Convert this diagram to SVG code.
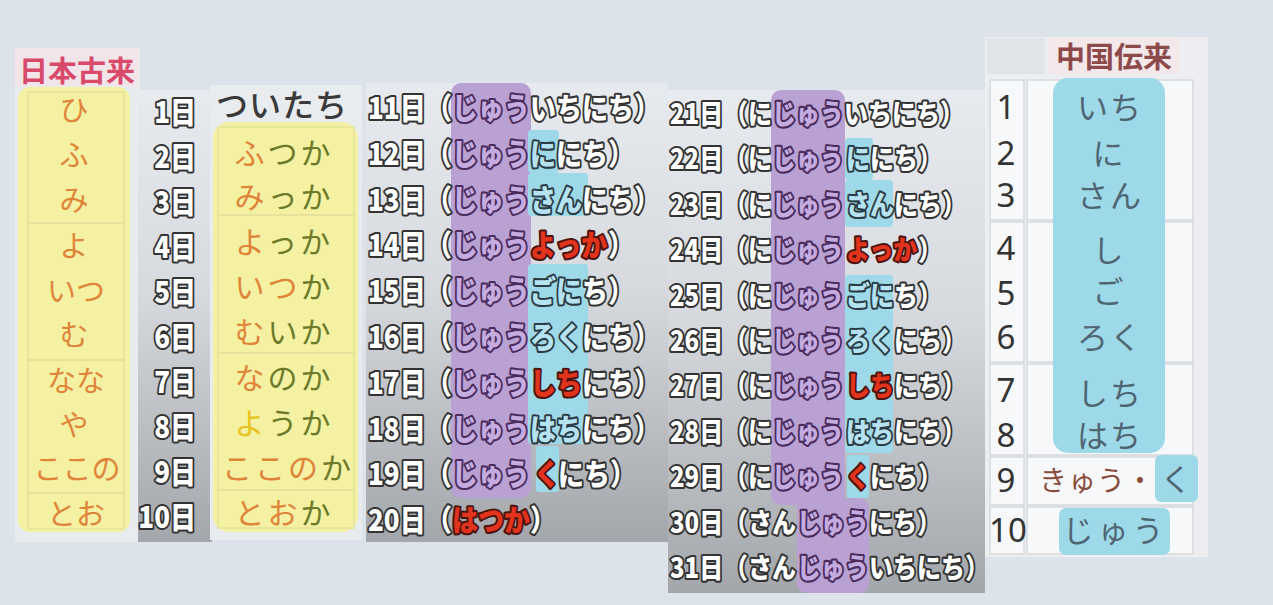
<svg xmlns="http://www.w3.org/2000/svg" width="1273" height="605" viewBox="0 0 1273 605">
<defs>
<linearGradient id="gray" x1="0" y1="0" x2="0" y2="1">
<stop offset="0" stop-color="#e7eaee"/>
<stop offset="0.45" stop-color="#d6dade"/>
<stop offset="1" stop-color="#a3a7ab"/>
</linearGradient>
<style>
.o{font-family:"Noto Sans CJK JP","Noto Sans",sans-serif;font-weight:900;paint-order:stroke;stroke-linejoin:round;stroke-width:3.6;stroke:#333;fill:#fff}
.p{fill:#c4abe0;stroke:#4a2c5c}
.b{fill:#b6e3f2;stroke:#2c3c44}
.r{fill:#e2331c;stroke:#4a1410}
.s4{font-size:26px}
.s5{font-size:24px}
.jp{font-family:"Noto Sans CJK JP","Noto Sans",sans-serif}
.or{fill:#e0843a}
.ol{fill:#6c7a2a}
.ye{fill:#e8c21e}
.sl{fill:#4f6672}
.pur{fill:#b9a1d3}
.blu{fill:#9ed9ea}
.yel{fill:#f4f1a2}
.cell{fill:none;stroke:#e4e19a;stroke-width:1.5}
.c6{fill:#f7f8f9;stroke:#d6d9dc;stroke-width:1.5}
</style>
</defs>
<rect width="1273" height="605" fill="#dde3ea"/>

<g id="panel-native">
<rect x="15" y="48" width="125" height="494" fill="#e9ecef"/>
<rect x="15" y="48" width="123" height="38" fill="#f2e5ea"/>
<text class="jp" x="77" y="82" font-size="29" font-weight="700" fill="#d8496a" text-anchor="middle">日本古来</text>
<rect class="yel" x="18" y="87" width="112" height="445" rx="12"/>
<rect class="cell" x="28" y="92" width="96" height="131"/>
<rect class="cell" x="28" y="223" width="96" height="137"/>
<rect class="cell" x="28" y="360" width="96" height="133"/>
<rect class="cell" x="28" y="493" width="96" height="36"/>
<g class="jp or" font-size="29" text-anchor="middle">
<text x="74" y="121">ひ</text>
<text x="74" y="166">ふ</text>
<text x="74" y="211">み</text>
<text x="74" y="257">よ</text>
<text x="76" y="302">いつ</text>
<text x="74" y="346">む</text>
<text x="76" y="392">なな</text>
<text x="74" y="436">や</text>
<text x="77" y="480">ここの</text>
<text x="76" y="525">とお</text>
</g>
</g>

<g id="panel-days1-10">
<rect x="138" y="90" width="74" height="452" fill="url(#gray)"/>
<g class="o s4" text-anchor="end">
<g transform="translate(0,123) scale(1,1.15)"><text x="196" y="0">1日</text></g>
<g transform="translate(0,168) scale(1,1.15)"><text x="196" y="0">2日</text></g>
<g transform="translate(0,213) scale(1,1.15)"><text x="196" y="0">3日</text></g>
<g transform="translate(0,258) scale(1,1.15)"><text x="196" y="0">4日</text></g>
<g transform="translate(0,303) scale(1,1.15)"><text x="196" y="0">5日</text></g>
<g transform="translate(0,348) scale(1,1.15)"><text x="196" y="0">6日</text></g>
<g transform="translate(0,393) scale(1,1.15)"><text x="196" y="0">7日</text></g>
<g transform="translate(0,438) scale(1,1.15)"><text x="196" y="0">8日</text></g>
<g transform="translate(0,483) scale(1,1.15)"><text x="196" y="0">9日</text></g>
<g transform="translate(0,528) scale(1,1.15)"><text x="196" y="0">10日</text></g>
</g>
</g>

<g id="panel-readings1-10">
<rect x="210" y="85" width="152" height="455" fill="#e9ecef"/>
<text class="jp" x="282" y="117" font-size="32" font-weight="500" fill="#3a3a3a" text-anchor="middle" letter-spacing="1">ついたち</text>
<rect class="yel" x="213" y="122" width="145" height="410" rx="16"/>
<rect class="cell" x="218" y="127" width="136" height="88"/>
<rect class="cell" x="218" y="215" width="136" height="138"/>
<rect class="cell" x="218" y="353" width="136" height="137"/>
<rect class="cell" x="218" y="490" width="136" height="38"/>
<g class="jp" font-size="30" text-anchor="middle" letter-spacing="3">
<text x="284" y="164"><tspan class="or">ふ</tspan><tspan class="ol">つか</tspan></text>
<text x="284" y="208"><tspan class="or">み</tspan><tspan class="ol">っか</tspan></text>
<text x="284" y="253"><tspan class="or">よ</tspan><tspan class="ol">っか</tspan></text>
<text x="284" y="298"><tspan class="or">いつ</tspan><tspan class="ol">か</tspan></text>
<text x="284" y="343"><tspan class="or">む</tspan><tspan class="ol">いか</tspan></text>
<text x="284" y="389"><tspan class="or">な</tspan><tspan class="ol">のか</tspan></text>
<text x="284" y="434"><tspan class="ye">よ</tspan><tspan class="ol">うか</tspan></text>
<text x="288" y="479"><tspan class="or">ここの</tspan><tspan class="ol">か</tspan></text>
<text x="284" y="524"><tspan class="or">とお</tspan><tspan class="ol">か</tspan></text>
</g>
</g>

<g id="panel-days11-20">
<rect x="366" y="83" width="302" height="459" fill="url(#gray)"/>
<rect class="pur" x="451" y="83" width="80" height="415" rx="10"/>
<rect class="blu" x="528" y="130" width="31" height="43" rx="4"/>
<rect class="blu" x="528" y="173" width="60" height="43" rx="4"/>
<rect class="blu" x="528" y="264" width="60" height="180" rx="4"/>
<rect class="blu" x="536" y="446" width="23" height="46" rx="3"/>
<g class="o s4">
<g transform="translate(0,119) scale(1,1.15)"><text x="368" y="0">11日</text><text x="426" y="0">（</text><text class="o p" x="452" y="0">じゅう</text><text x="530" y="0">いちにち）</text></g>
<g transform="translate(0,165) scale(1,1.15)"><text x="368" y="0">12日</text><text x="426" y="0">（</text><text class="o p" x="452" y="0">じゅう</text><text class="o b" x="530" y="0">に</text><text x="556" y="0">にち）</text></g>
<g transform="translate(0,211) scale(1,1.15)"><text x="368" y="0">13日</text><text x="426" y="0">（</text><text class="o p" x="452" y="0">じゅう</text><text class="o b" x="530" y="0">さん</text><text x="582" y="0">にち）</text></g>
<g transform="translate(0,256) scale(1,1.15)"><text x="368" y="0">14日</text><text x="426" y="0">（</text><text class="o p" x="452" y="0">じゅう</text><text class="o r" x="530" y="0">よっか</text><text x="608" y="0">）</text></g>
<g transform="translate(0,302) scale(1,1.15)"><text x="368" y="0">15日</text><text x="426" y="0">（</text><text class="o p" x="452" y="0">じゅう</text><text class="o b" x="530" y="0">ごに</text><text x="582" y="0">ち）</text></g>
<g transform="translate(0,348) scale(1,1.15)"><text x="368" y="0">16日</text><text x="426" y="0">（</text><text class="o p" x="452" y="0">じゅう</text><text class="o b" x="530" y="0">ろく</text><text x="582" y="0">にち）</text></g>
<g transform="translate(0,394) scale(1,1.15)"><text x="368" y="0">17日</text><text x="426" y="0">（</text><text class="o p" x="452" y="0">じゅう</text><text class="o r" x="530" y="0">しち</text><text x="582" y="0">にち）</text></g>
<g transform="translate(0,440) scale(1,1.15)"><text x="368" y="0">18日</text><text x="426" y="0">（</text><text class="o p" x="452" y="0">じゅう</text><text class="o b" x="530" y="0">はち</text><text x="582" y="0">にち）</text></g>
<g transform="translate(0,485) scale(1,1.15)"><text x="368" y="0">19日</text><text x="426" y="0">（</text><text class="o p" x="452" y="0">じゅう</text><text class="o r" x="534" y="0">く</text><text x="558" y="0">にち）</text></g>
<g transform="translate(0,531) scale(1,1.15)"><text x="368" y="0">20日</text><text x="426" y="0">（</text><text class="o r" x="452" y="0">はつか</text><text x="530" y="0">）</text></g>
</g>
</g>

<g id="panel-days21-31">
<rect x="668" y="90" width="317" height="503" fill="url(#gray)"/>
<rect class="pur" x="771" y="90" width="74" height="415" rx="10"/>
<rect class="pur" x="797" y="498" width="72" height="95" rx="10"/>
<rect class="pur" x="797" y="490" width="48" height="20"/>
<rect class="blu" x="845" y="138" width="28" height="42" rx="4"/>
<rect class="blu" x="845" y="180" width="48" height="47" rx="4"/>
<rect class="blu" x="845" y="275" width="48" height="178" rx="4"/>
<rect class="blu" x="847" y="455" width="22" height="43" rx="3"/>
<g class="o s5">
<g transform="translate(0,124) scale(1,1.15)"><text x="670" y="0">21日</text><text x="724" y="0">（に</text><text class="o p" x="772" y="0">じゅう</text><text x="844" y="0">いちにち）</text></g>
<g transform="translate(0,169) scale(1,1.15)"><text x="670" y="0">22日</text><text x="724" y="0">（に</text><text class="o p" x="772" y="0">じゅう</text><text class="o b" x="846" y="0">に</text><text x="870" y="0">にち）</text></g>
<g transform="translate(0,215) scale(1,1.15)"><text x="670" y="0">23日</text><text x="724" y="0">（に</text><text class="o p" x="772" y="0">じゅう</text><text class="o b" x="846" y="0">さん</text><text x="894" y="0">にち）</text></g>
<g transform="translate(0,260) scale(1,1.15)"><text x="670" y="0">24日</text><text x="724" y="0">（に</text><text class="o p" x="772" y="0">じゅう</text><text class="o r" x="846" y="0">よっか</text><text x="918" y="0">）</text></g>
<g transform="translate(0,306) scale(1,1.15)"><text x="670" y="0">25日</text><text x="724" y="0">（に</text><text class="o p" x="772" y="0">じゅう</text><text class="o b" x="846" y="0">ごに</text><text x="894" y="0">ち）</text></g>
<g transform="translate(0,351) scale(1,1.15)"><text x="670" y="0">26日</text><text x="724" y="0">（に</text><text class="o p" x="772" y="0">じゅう</text><text class="o b" x="846" y="0">ろく</text><text x="894" y="0">にち）</text></g>
<g transform="translate(0,396) scale(1,1.15)"><text x="670" y="0">27日</text><text x="724" y="0">（に</text><text class="o p" x="772" y="0">じゅう</text><text class="o r" x="846" y="0">しち</text><text x="894" y="0">にち）</text></g>
<g transform="translate(0,442) scale(1,1.15)"><text x="670" y="0">28日</text><text x="724" y="0">（に</text><text class="o p" x="772" y="0">じゅう</text><text class="o b" x="846" y="0">はち</text><text x="894" y="0">にち）</text></g>
<g transform="translate(0,487) scale(1,1.15)"><text x="670" y="0">29日</text><text x="724" y="0">（に</text><text class="o p" x="772" y="0">じゅう</text><text class="o r" x="846" y="0">く</text><text x="870" y="0">にち）</text></g>
<g transform="translate(0,533) scale(1,1.15)"><text x="670" y="0">30日</text><text x="724" y="0">（さん</text><text class="o p" x="797" y="0">じゅう</text><text x="869" y="0">にち）</text></g>
<g transform="translate(0,578) scale(1,1.15)"><text x="670" y="0">31日</text><text x="724" y="0">（さん</text><text class="o p" x="797" y="0">じゅう</text><text x="869" y="0">いちにち）</text></g>
</g>
</g>

<g id="panel-chinese">
<rect x="985" y="37" width="223" height="520" fill="#eceef1"/>
<rect x="987" y="38" width="58" height="36" fill="#e0e3e7"/>
<rect x="1048" y="38" width="131" height="36" fill="#f4e8ea"/>
<text class="jp" x="1114" y="68" font-size="29" font-weight="700" fill="#8e4a4a" text-anchor="middle">中国伝来</text>
<rect class="c6" x="990" y="80" width="34" height="140"/>
<rect class="c6" x="990" y="222" width="34" height="140"/>
<rect class="c6" x="990" y="364" width="34" height="91"/>
<rect class="c6" x="990" y="457" width="34" height="48"/>
<rect class="c6" x="990" y="507" width="34" height="47"/>
<rect class="c6" x="1027" y="80" width="166" height="140"/>
<rect class="c6" x="1027" y="222" width="166" height="140"/>
<rect class="c6" x="1027" y="364" width="166" height="91"/>
<rect class="c6" x="1027" y="457" width="166" height="48"/>
<rect class="c6" x="1027" y="507" width="166" height="47"/>
<rect class="blu" x="1053" y="78" width="112" height="375" rx="15"/>
<rect class="blu" x="1155" y="455" width="43" height="47" rx="6"/>
<rect class="blu" x="1059" y="508" width="111" height="47" rx="7"/>
<g font-family="Noto Sans, sans-serif" font-size="33" fill="#333" text-anchor="middle">
<text x="1006" y="119">1</text>
<text x="1006" y="165">2</text>
<text x="1006" y="207">3</text>
<text x="1006" y="260">4</text>
<text x="1006" y="305">5</text>
<text x="1006" y="349">6</text>
<text x="1006" y="402">7</text>
<text x="1006" y="447">8</text>
<text x="1006" y="492">9</text>
<text x="1008" y="542">10</text>
</g>
<g class="jp sl" font-size="31" text-anchor="middle" letter-spacing="2">
<text x="1110" y="119">いち</text>
<text x="1109" y="165">に</text>
<text x="1110" y="207">さん</text>
<text x="1109" y="262">し</text>
<text x="1109" y="303">ご</text>
<text x="1110" y="349">ろく</text>
<text x="1110" y="405">しち</text>
<text x="1110" y="447">はち</text>
<text x="1177" y="491">く</text>
<text x="1115" y="542" letter-spacing="4">じゅう</text>
</g>
<text class="jp" x="1039" y="491" font-size="28" fill="#8a4c3c" letter-spacing="1">きゅう・</text>
</g>
</svg>
